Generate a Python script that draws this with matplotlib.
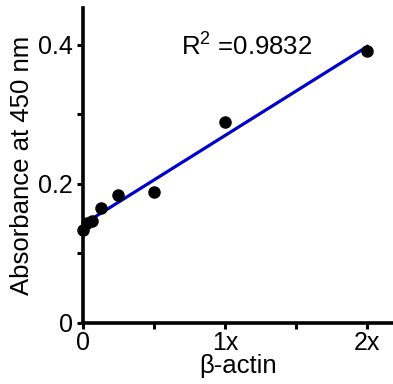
import numpy as np
import matplotlib.pyplot as plt

plt.rcParams['font.family'] = 'Liberation Sans'
plt.rcParams['mathtext.fontset'] = 'custom'
plt.rcParams['mathtext.rm'] = 'Liberation Sans'

# standard dilutions and absorbance readings
dilution = [0, 0.03125, 0.0625, 0.125, 0.25, 0.5, 1, 2]
absorbance = [0.134, 0.144, 0.147, 0.165, 0.184, 0.188, 0.289, 0.391]
r2_text = "0.9832"

xticks = [0, 0.5, 1, 1.5, 2]
xticklabels = ["0", "", "1x", "", "2x"]
yticks = [0, 0.1, 0.2, 0.3, 0.4]
yticklabels = ["0", "", "0.2", "", "0.4"]

fig = plt.figure(figsize=(3.93, 3.84), dpi=100)
ax = fig.add_axes([0.211, 0.159, 0.789, 0.82])

slope, icpt = np.polyfit(dilution, absorbance, 1)
xf = np.array([dilution[0], dilution[-1]])
ax.plot(xf, slope * xf + icpt, color='#0000c8', lw=2.3, zorder=2)
ax.plot(dilution, absorbance, 'o', color='black', ms=8, clip_on=False, zorder=3)

ax.text(1.15, 0.399, "R$^2$ =" + r2_text, fontsize=18.5, ha='center', va='center')

ax.set_xlim(0, 2.18)
ax.set_ylim(0, 0.453)
ax.set_xticks(xticks)
ax.set_xticklabels(xticklabels)
ax.set_yticks(yticks)
ax.set_yticklabels(yticklabels)
ax.tick_params(width=2.2, length=4, labelsize=18)
ax.tick_params(axis='y', pad=3)
ax.tick_params(axis='x', pad=2)

for s in ['top', 'right']:
    ax.spines[s].set_visible(False)
for s in ['left', 'bottom']:
    ax.spines[s].set_linewidth(2.6)

ax.set_xlabel("β-actin", fontsize=18.5, labelpad=-1)
ax.set_ylabel("Absorbance at 450 nm", fontsize=18.5, labelpad=3)

fig.savefig("out.png", dpi=100)
